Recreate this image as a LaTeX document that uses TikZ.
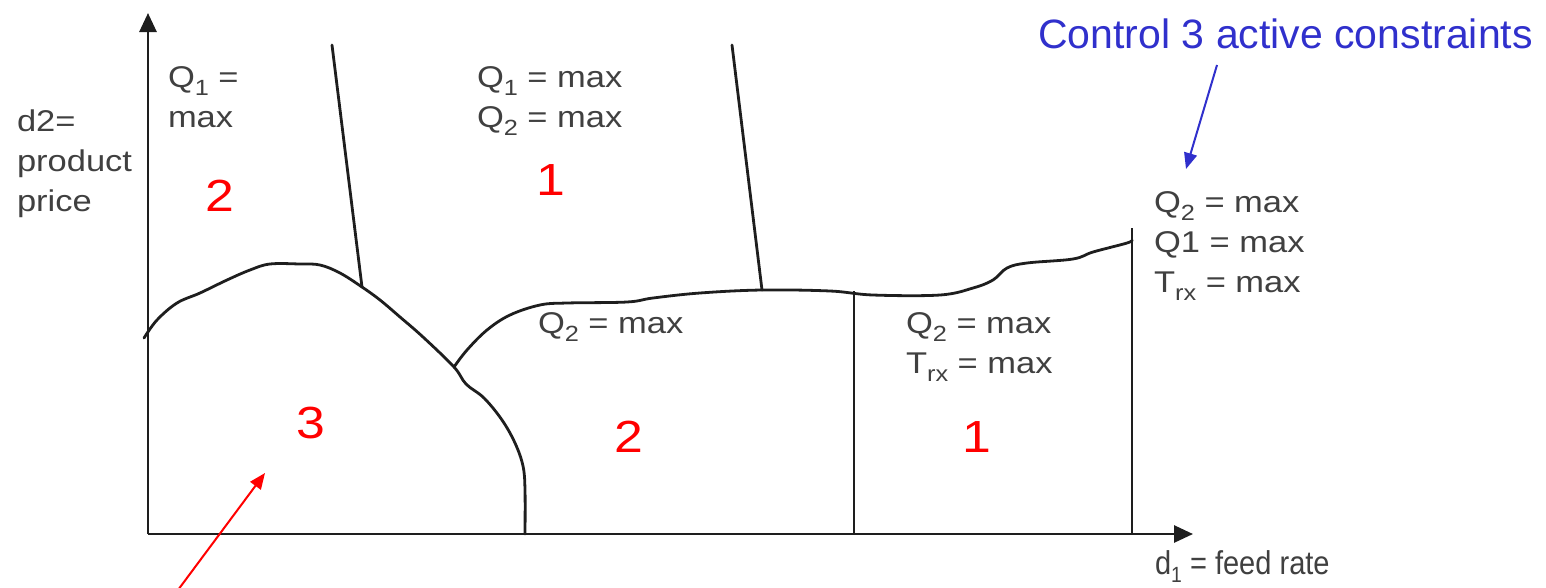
\documentclass[tikz,border=0pt]{standalone}
\usepackage{fontspec}
\setmainfont{Liberation Sans}[FakeStretch=1.15]
\newfontfamily\titlefont{Liberation Sans}
\newfontfamily\narrowfont{Liberation Sans}[FakeStretch=0.88]
\usetikzlibrary{arrows.meta}
\definecolor{lblgray}{RGB}{64,64,64}
\definecolor{ctrlblue}{RGB}{48,48,204}
\definecolor{linegray}{RGB}{30,30,30}
\newcommand{\lsub}[1]{\raisebox{-8pt}{\fontsize{22}{22}\selectfont #1}}
\begin{document}
\begin{tikzpicture}[x=1pt,y=-1pt,
  lbl/.style={text=lblgray,font=\fontsize{30}{40}\selectfont,inner sep=0pt,outer sep=0pt,align=left,anchor=north west},
  regnum/.style={text=red,font=\fontsize{45}{45}\selectfont,inner sep=0pt},
  axisline/.style={draw=linegray,line width=2.7pt,-{Triangle[length=19pt,width=17pt]}},
  bound/.style={draw=linegray,line width=2.8pt,line join=round,line cap=round},
  thinline/.style={draw=linegray,line width=2pt},
  callout/.style={line width=2pt,-{Triangle[length=16pt,width=13pt]}}]
\useasboundingbox (0,0) rectangle (1546,587);

% axes
\coordinate (O) at (148,534);
\coordinate (ytip) at (148,13);
\coordinate (xtip) at (1193,534);
\draw[axisline] (O) -- (ytip);
\draw[axisline] (O) -- (xtip);

% junctions
\coordinate (jA) at (362,287);
\coordinate (jB) at (454,367);
\coordinate (jC) at (762,290);
\coordinate (tA) at (332,45);
\coordinate (tC) at (732,45);
\coordinate (vA) at (854,291);
\coordinate (vAb) at (854,534);
\coordinate (vB) at (1132,228);
\coordinate (vBb) at (1132,534);

% boundary of region 3
\draw[bound] plot[smooth,tension=0.6] coordinates {(144,338) (157,320) (177,303) (200,293) (227,280) (250,270) (270,264) (300,264) (320,265) (340,273) (jA) (380,300) (400,317) (423,337) (jB) (466,384) (484,398) (502,420) (515,443) (523,466) (525,490) (525,534)};
% upper boundary
\draw[bound] plot[smooth,tension=0.6] coordinates {(jB) (467,350) (487,330) (510,315) (540,305) (567,303) (627,302) (653,298) (700,293) (jC) (830,291) (873,295) (940,295) (973,288) (993,280) (1007,268) (1027,263) (1073,259) (1093,252) (1127,243) (1132,240)};
\draw[bound] (tA) -- (jA);
\draw[bound] (tC) -- (jC);
\draw[thinline] (vA) -- (vAb);
\draw[thinline] (vB) -- (vBb);

% labels
\node[lbl] (lblY) at (17,110) {d2=\\product\\price};
\node[lbl] (lblA) at (168,67) {Q\lsub{1} =\\max};
\node[lbl] (lblB) at (477,67) {Q\lsub{1} = max\\Q\lsub{2} = max};
\node[lbl] (lblC) at (538,313) {Q\lsub{2} = max};
\node[lbl] (lblD) at (906,313) {Q\lsub{2} = max\\T\lsub{rx} = max};
\node[lbl] (lblE) at (1154,192) {Q\lsub{2} = max\\Q1 = max\\T\lsub{rx} = max};
\node[lbl,font=\narrowfont\fontsize{33}{40}\selectfont] (lblX) at (1155,551) {d\lsub{1} = feed rate};

% region numbers
\node[regnum] (nA) at (220,196) {2};
\node[regnum] (nB) at (551,180) {1};
\node[regnum] (nC) at (311,423) {3};
\node[regnum] (nD) at (629,437) {2};
\node[regnum] (nE) at (977,437) {1};

% title and callouts
\node[font=\titlefont\fontsize{41}{41}\selectfont,text=ctrlblue,anchor=base east,inner sep=0pt] (title) at (1533,48) {Control 3 active constraints};
\coordinate (bs) at (1217,65);
\coordinate (be) at (1186,169);
\draw[callout,draw=ctrlblue,fill=ctrlblue] (bs) -- (be);
\coordinate (rs) at (178,590);
\coordinate (re) at (265,473);
\draw[callout,draw=red,fill=red] (rs) -- (re);
\end{tikzpicture}
\end{document}
